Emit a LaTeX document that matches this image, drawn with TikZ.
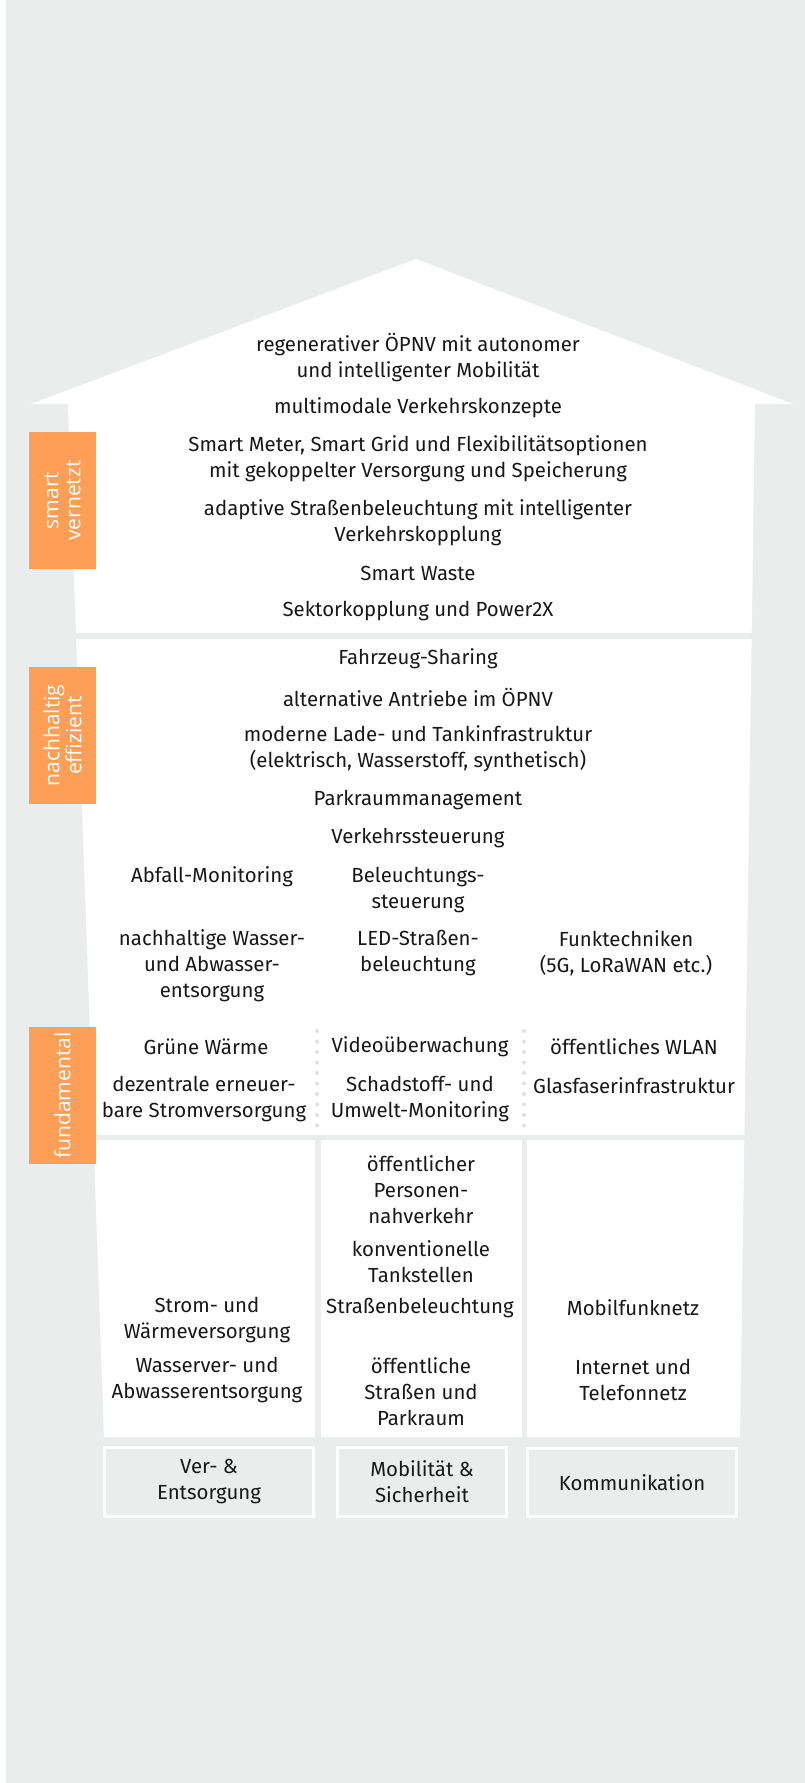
\documentclass[tikz,border=0pt]{standalone}
\usepackage{fontspec}
\setmainfont{Fira Sans}
\newfontfamily\tagfont{Open Sans}

\definecolor{bggray}{RGB}{235,237,236}
\definecolor{tagorange}{RGB}{253,159,87}
\definecolor{dotgray}{RGB}{224,226,225}
\definecolor{ink}{RGB}{24,24,24}

\tikzset{
  item/.style={font=\fontsize{20.4}{26}\selectfont, text=ink, align=center, inner sep=0pt},
  tag/.style={fill=tagorange, text=white, font=\tagfont\fontsize{21}{22}\selectfont,
    align=center, rotate=90, minimum width=137pt, minimum height=67pt, inner sep=0pt},
  pillar/.style={item, draw=white, line width=2.7pt, fill=bggray},
  dotsep/.style={dotgray, line width=4pt, line cap=round, dash pattern=on 0pt off 10.5pt}
}

\begin{document}
\begin{tikzpicture}[x=1pt, y=-1pt]
  \useasboundingbox (0,0) rectangle (805,1783);
  % Background.
  \fill[bggray] (6,0) rectangle (805,1783);
  % House: roof and tapering walls.
  \fill[white] (31,404) -- (416,259) -- (793,404) -- (755,404) -- (740,1437)
    -- (104,1437) -- (68,404) -- cycle;
  % Gaps between the floors and the columns.
  \fill[bggray] (60,633) rectangle (770,639);
  \fill[bggray] (60,1135) rectangle (770,1140);
  \fill[bggray] (315,1140) rectangle (321,1440);
  \fill[bggray] (522,1140) rectangle (527,1440);
  \draw[dotsep] (317,1031) -- (317,1131);
  \draw[dotsep] (524,1031) -- (524,1131);

  % Orange level tags.
  \node[tag] (smart) at (62.5,500.5) {smart\\vernetzt};
  \node[tag] (effizient) at (62.5,735.5) {nachhaltig\\effizient};
  \node[tag] (fundament) at (62.5,1095.5) {fundamental};

  % Top floor: smart.
  \node[item] (regen) at (418,357.5) {regenerativer ÖPNV mit autonomer\\und intelligenter Mobilität};
  \node[item] (multi) at (418,408) {multimodale Verkehrskonzepte};
  \node[item] (meter) at (418,459) {Smart Meter, Smart Grid und Flexibilitätsoptionen\\mit gekoppelter Versorgung und Speicherung};
  \node[item] (adaptiv) at (418,522.5) {adaptive Straßenbeleuchtung mit intelligenter\\Verkehrskopplung};
  \node[item] (waste) at (418,573.5) {Smart Waste};
  \node[item] (sektor) at (418,611.5) {Sektorkopplung und Power2X};

  % Middle floor: sustainable.
  \node[item] (sharing) at (418,659) {Fahrzeug-Sharing};
  \node[item] (antrieb) at (418,697.5) {alternative Antriebe im ÖPNV};
  \node[item] (ladeinfra) at (418,749) {moderne Lade- und Tankinfrastruktur\\(elektrisch, Wasserstoff, synthetisch)};
  \node[item] (parkraum) at (418,800) {Parkraummanagement};
  \node[item] (verkehr) at (418,838) {Verkehrssteuerung};
  \node[item] (abfall) at (212,877) {Abfall-Monitoring};
  \node[item] (belsteuer) at (418,890) {Beleuchtungs-\\steuerung};
  \node[item] (wasser) at (212,966) {nachhaltige Wasser-\\und Abwasser-\\entsorgung};
  \node[item] (led) at (418,953) {LED-Straßen-\\beleuchtung};
  \node[item] (funk) at (626,953) {Funktechniken\\(5G, LoRaWAN etc.)};

  % Ground floor, upper row.
  \node[item] (gruen) at (206,1047) {Grüne Wärme};
  \node[item] (dezentral) at (204,1099) {dezentrale erneuer-\\bare Stromversorgung};
  \node[item] (video) at (420,1047) {Videoüberwachung};
  \node[item] (schadstoff) at (420,1099) {Schadstoff- und\\Umwelt-Monitoring};
  \node[item] (wlan) at (634,1047) {öffentliches WLAN};
  \node[item] (glasfaser) at (634,1086) {Glasfaserinfrastruktur};

  % Ground floor, lower row.
  \node[item] (strom) at (207,1320.5) {Strom- und\\Wärmeversorgung};
  \node[item] (wasserver) at (207,1380) {Wasserver- und\\Abwasserentsorgung};
  \node[item] (oepnv) at (421,1190) {öffentlicher\\Personen-\\nahverkehr};
  \node[item] (tank) at (421,1261.5) {konventionelle\\Tankstellen};
  \node[item] (strbel) at (420,1308) {Straßenbeleuchtung};
  \node[item] (strassen) at (421,1392) {öffentliche\\Straßen und\\Parkraum};
  \node[item] (mobil) at (633,1308) {Mobilfunknetz};
  \node[item] (internet) at (633,1380) {Internet und\\Telefonnetz};

  % Pillars.
  \node[pillar, minimum width=209pt, minimum height=69pt] (ver) at (209,1482) {Ver- \&\\Entsorgung};
  \node[pillar, minimum width=169pt, minimum height=69pt] (mob) at (422,1482) {Mobilität \&\\Sicherheit};
  \node[pillar, minimum width=209pt, minimum height=68pt] (komm) at (632,1482.5) {Kommunikation};
\end{tikzpicture}
\end{document}
